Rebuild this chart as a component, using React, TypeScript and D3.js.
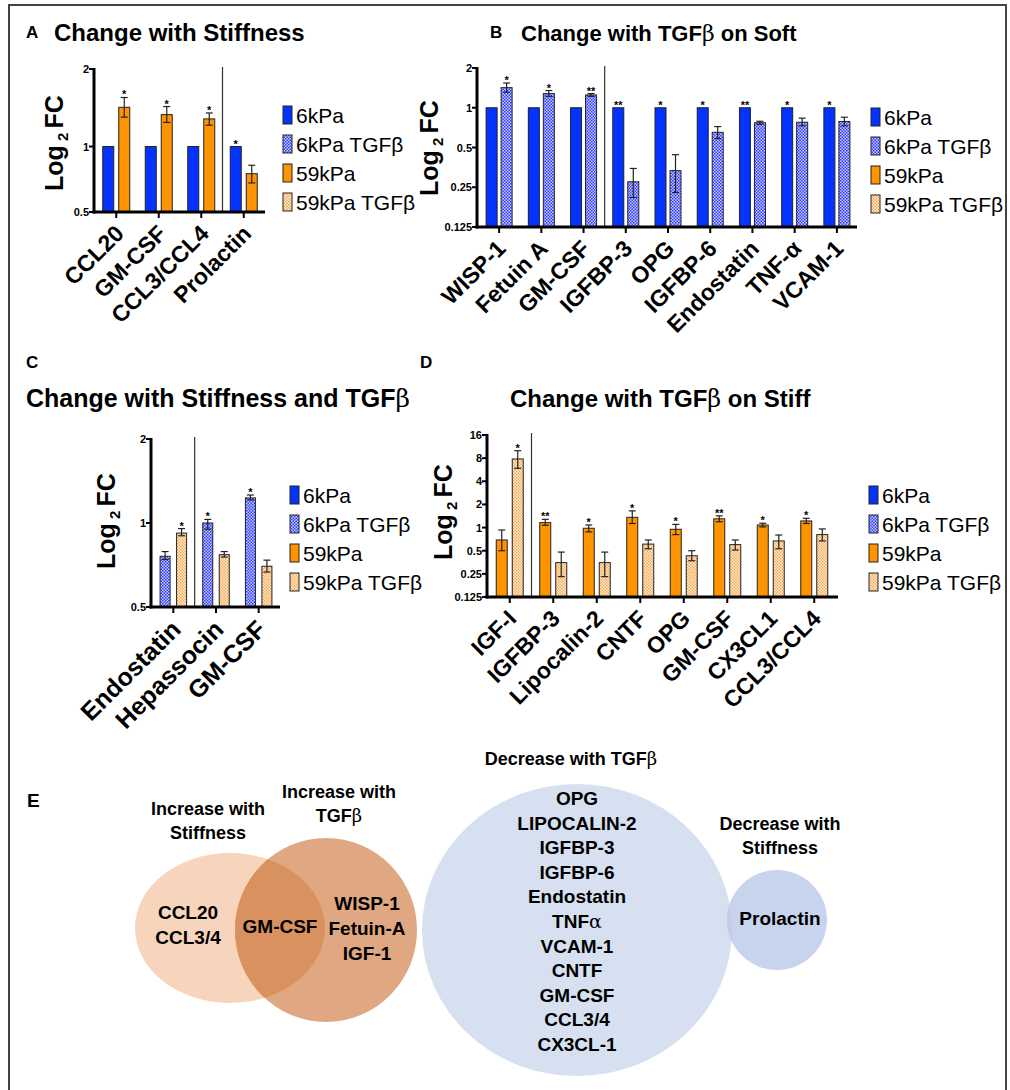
import React from 'react';
import * as d3 from 'd3';

const FONT = "'Liberation Sans', Arial, Helvetica, sans-serif";
const LEGEND_LABELS = ["6kPa", "6kPa TGFβ", "59kPa", "59kPa TGFβ"];
const FILLS = ["#0433ff", "url(#chkBlue)", "#ff9300", "url(#chkOrange)"];

// A: Change with Stiffness (6kPa vs 59kPa)
const catsA = ["CCL20", "GM-CSF", "CCL3/CCL4", "Prolactin"];
const aLeft = [1, 1, 1, 1];
const aRight = [1.42, 1.33, 1.28, 0.75];
const aRightLo = [1.30, 1.24, 1.21, 0.68];
const aRightHi = [1.55, 1.43, 1.35, 0.82];
const aStars = ["*", "*", "*", "*"];
const aStarOn = [1, 1, 1, 0];

// B: Change with TGFb on Soft (6kPa vs 6kPa TGFb)
const catsB = ["WISP-1", "Fetuin A", "GM-CSF", "IGFBP-3", "OPG", "IGFBP-6", "Endostatin", "TNF-α", "VCAM-1"];
const bLeft = [1, 1, 1, 1, 1, 1, 1, 1, 1];
const bRight = [1.42, 1.28, 1.25, 0.275, 0.334, 0.652, 0.77, 0.777, 0.787];
const bRightLo = [1.31, 1.22, 1.22, 0.209, 0.228, 0.584, 0.75, 0.73, 0.73];
const bRightHi = [1.54, 1.35, 1.28, 0.347, 0.441, 0.72, 0.79, 0.834, 0.848];
const bStars = ["*", "*", "**", "**", "*", "*", "**", "*", "*"];
const bStarOn = [1, 1, 1, 0, 0, 0, 0, 0, 0];

// C: Change with Stiffness and TGFb (6kPa TGFb vs 59kPa TGFb)
const catsC = ["Endostatin", "Hepassocin", "GM-CSF"];
const cLeft = [0.76, 1.0, 1.23];
const cLeftLo = [0.74, 0.95, 1.21];
const cLeftHi = [0.79, 1.03, 1.26];
const cRight = [0.92, 0.77, 0.70];
const cRightLo = [0.90, 0.755, 0.667];
const cRightHi = [0.955, 0.79, 0.736];
const cStars = ["*", "*", "*"];
const cStarOn = [1, 0, 0];

// D: Change with TGFb on Stiff (59kPa vs 59kPa TGFb)
const catsD = ["IGF-I", "IGFBP-3", "Lipocalin-2", "CNTF", "OPG", "GM-CSF", "CX3CL1", "CCL3/CCL4"];
const dLeft = [0.69, 1.16, 0.98, 1.36, 0.95, 1.30, 1.08, 1.22];
const dLeftLo = [0.50, 1.07, 0.88, 1.13, 0.81, 1.19, 1.02, 1.13];
const dLeftHi = [0.93, 1.28, 1.08, 1.65, 1.10, 1.42, 1.14, 1.32];
const dRight = [7.8, 0.35, 0.35, 0.61, 0.43, 0.60, 0.67, 0.81];
const dRightLo = [5.9, 0.23, 0.23, 0.53, 0.37, 0.51, 0.53, 0.67];
const dRightHi = [10.0, 0.48, 0.48, 0.69, 0.50, 0.69, 0.80, 0.96];
const dStars = ["*", "**", "*", "*", "*", "**", "*", "*"];
const dStarOn = [1, 0, 0, 0, 0, 0, 0, 0];

// E: venn groups
const incStiff = ["CCL20", "CCL3/4"];
const incBoth = ["GM-CSF"];
const incTgf = ["WISP-1", "Fetuin-A", "IGF-1"];
const decTgf = ["OPG", "LIPOCALIN-2", "IGFBP-3", "IGFBP-6", "Endostatin", "TNFα", "VCAM-1", "CNTF", "GM-CSF", "CCL3/4", "CX3CL-1"];
const decStiff = ["Prolactin"];

const panels = [
  {
    cats: catsA, left: aLeft, right: aRight, rightLo: aRightLo, rightHi: aRightHi,
    stars: aStars, starOn: aStarOn, kinds: [0, 2],
    band: [95, 265], axisEnd: 265, yDomain: [0.5, 1, 2], yRange: [212, 146.5, 69], ticks: [0.5, 1, 2],
    barW: 11, gap: 5, sepAfter: 2, legX: 283, legY: 115, ylab: [55, 143], xlabSize: 23, xlabOff: [9, 23],
  },
  {
    cats: catsB, left: bLeft, right: bRight, rightLo: bRightLo, rightHi: bRightHi,
    stars: bStars, starOn: bStarOn, kinds: [0, 1],
    band: [478, 858], axisEnd: 857, yDomain: [0.125, 2], yRange: [227, 68], ticks: [0.125, 0.25, 0.5, 1, 2],
    barW: 11, gap: 4, sepAfter: 2, legX: 871, legY: 117, ylab: [430, 148], xlabSize: 23, xlabOff: [8, 23],
  },
  {
    cats: catsC, left: cLeft, leftLo: cLeftLo, leftHi: cLeftHi, right: cRight, rightLo: cRightLo, rightHi: cRightHi,
    stars: cStars, starOn: cStarOn, kinds: [1, 3],
    band: [152, 280], axisEnd: 280, yDomain: [0.5, 2], yRange: [607, 439], ticks: [0.5, 1, 2],
    barW: 10, gap: 6.5, sepAfter: 0, legX: 290, legY: 495, ylab: [107, 521], xlabSize: 25, xlabOff: [9, 24],
  },
  {
    cats: catsD, left: dLeft, leftLo: dLeftLo, leftHi: dLeftHi, right: dRight, rightLo: dRightLo, rightHi: dRightHi,
    stars: dStars, starOn: dStarOn, kinds: [2, 3],
    band: [488, 836], axisEnd: 838, yDomain: [0.125, 16], yRange: [597, 435], ticks: [0.125, 0.25, 0.5, 1, 2, 4, 8, 16],
    barW: 11, gap: 5, sepAfter: 0, legX: 869, legY: 495, ylab: [444, 512], xlabSize: 23, xlabOff: [8, 23],
  },
];

function ErrBar({ x, y1, y2 }) {
  return (
    <g stroke="#222" strokeWidth={1.2}>
      <line x1={x} x2={x} y1={y1} y2={y2} />
      <line x1={x - 3.5} x2={x + 3.5} y1={y1} y2={y1} />
      <line x1={x - 3.5} x2={x + 3.5} y1={y2} y2={y2} />
    </g>
  );
}

function BarPanel({ p }) {
  const x = d3.scaleBand().domain(p.cats).range(p.band);
  const y = d3.scaleLog().base(2).domain(p.yDomain).range(p.yRange);
  const x0 = p.band[0] - 1;
  const yBase = p.yRange[0];
  const yTop = p.yRange[p.yRange.length - 1];
  const centers = p.cats.map(c => x(c) + x.bandwidth() / 2);
  const sepX = (centers[p.sepAfter] + centers[p.sepAfter + 1]) / 2;

  const bar = (c, side, v, lo, hi, kind) => {
    const bx = side === 0 ? c - p.gap / 2 - p.barW : c + p.gap / 2;
    return (
      <g>
        <rect x={bx} y={y(v)} width={p.barW} height={yBase - y(v)} fill={FILLS[kind]} stroke="#222" strokeWidth={1} />
        {lo != null && <ErrBar x={bx + p.barW / 2} y1={y(hi)} y2={y(lo)} />}
      </g>
    );
  };

  return (
    <g fontFamily={FONT}>
      {p.cats.map((c, i) => {
        const cx = centers[i];
        const lHi = p.leftHi ? p.leftHi[i] : p.left[i];
        const rHi = p.rightHi ? p.rightHi[i] : p.right[i];
        const starSide = p.starOn[i];
        const starX = starSide === 0 ? cx - p.gap / 2 - p.barW / 2 : cx + p.gap / 2 + p.barW / 2;
        const starY = y(starSide === 0 ? lHi : rHi) - 3;
        return (
          <g key={c}>
            {bar(cx, 0, p.left[i], p.leftLo ? p.leftLo[i] : null, lHi, p.kinds[0])}
            {bar(cx, 1, p.right[i], p.rightLo ? p.rightLo[i] : null, rHi, p.kinds[1])}
            <text x={starX} y={starY + 4} textAnchor="middle" fontSize={11} fontWeight="bold">{p.stars[i]}</text>
            <line x1={cx} x2={cx} y1={yBase} y2={yBase + 6} stroke="#000" strokeWidth={2} />
            <text transform={`translate(${cx + p.xlabOff[0]},${yBase + p.xlabOff[1]}) rotate(-45)`} textAnchor="end"
              fontSize={p.xlabSize} fontWeight="bold">{c}</text>
          </g>
        );
      })}
      <line x1={sepX} x2={sepX} y1={yTop - 2} y2={yBase} stroke="#333" strokeWidth={1.2} />
      <line x1={x0} x2={x0} y1={yTop - 1} y2={yBase + 1.5} stroke="#000" strokeWidth={3} />
      <line x1={x0 - 1.5} x2={p.axisEnd} y1={yBase} y2={yBase} stroke="#000" strokeWidth={3} />
      {p.ticks.map(t => (
        <g key={t}>
          <line x1={x0 - 5} x2={x0} y1={y(t)} y2={y(t)} stroke="#000" strokeWidth={2} />
          <text x={x0 - 5} y={y(t) + 4} textAnchor="end" fontSize={11} fontWeight="bold">{String(t)}</text>
        </g>
      ))}
      <text transform={`translate(${p.ylab[0] + 8},${p.ylab[1]}) rotate(-90)`} textAnchor="middle"
        fontSize={25} fontWeight="bold">
        Log<tspan fontSize={15} dy={5}> 2 </tspan><tspan dy={-5}>FC</tspan>
      </text>
      {LEGEND_LABELS.map((l, i) => (
        <g key={l}>
          <rect x={p.legX} y={p.legY + i * 29 - 9} width={9} height={18} fill={FILLS[i]} stroke="#222" strokeWidth={1} />
          <text x={p.legX + 13} y={p.legY + i * 29 + 7.5} fontSize={21}>{l}</text>
        </g>
      ))}
    </g>
  );
}

const beta = <tspan fontFamily="'DejaVu Serif', serif" fontWeight="normal">β</tspan>;

function Venn() {
  const t = { fontFamily: FONT, fontWeight: "bold", textAnchor: "middle" };
  return (
    <g>
      <defs>
        <clipPath id="clipDark"><ellipse cx={326} cy={930} rx={91} ry={92} /></clipPath>
        <clipPath id="clipBig"><ellipse cx={577} cy={930} rx={155} ry={146} /></clipPath>
      </defs>
      <ellipse cx={230} cy={928} rx={95} ry={75} fill="#f7d4bc" />
      <ellipse cx={326} cy={930} rx={91} ry={92} fill="#e0a882" />
      <ellipse cx={230} cy={928} rx={95} ry={75} fill="#d9925f" clipPath="url(#clipDark)" />
      <ellipse cx={577} cy={930} rx={155} ry={146} fill="#d6e0f1" />
      <circle cx={777} cy={920} r={50} fill="#c8d4ee" />
      <circle cx={777} cy={920} r={50} fill="#c0cdea" clipPath="url(#clipBig)" />

      <text x={27} y={807} fontSize={19} {...t} textAnchor="start">E</text>
      <text x={208} y={815} fontSize={18} {...t}>Increase with</text>
      <text x={208} y={839} fontSize={18} {...t}>Stiffness</text>
      <text x={339} y={798} fontSize={18} {...t}>Increase with</text>
      <text x={339} y={822} fontSize={18} {...t}>TGF{beta}</text>
      <text x={571} y={765} fontSize={18} {...t}>Decrease with TGF{beta}</text>
      <text x={780} y={830} fontSize={18} {...t}>Decrease with</text>
      <text x={780} y={854} fontSize={18} {...t}>Stiffness</text>

      {incStiff.map((s, i) => <text key={s} x={188} y={919 + i * 24.5} fontSize={19} {...t}>{s}</text>)}
      {incBoth.map((s, i) => <text key={s} x={280} y={933 + i * 24.5} fontSize={19} {...t}>{s}</text>)}
      {incTgf.map((s, i) => <text key={s} x={367} y={910 + i * 25} fontSize={19} {...t}>{s}</text>)}
      {decTgf.map((s, i) => (
        <text key={s + i} x={577} y={805 + i * 24.6} fontSize={19} {...t}>
          {s === "TNFα" ? <>TNF<tspan fontFamily="'DejaVu Serif', serif" fontWeight="normal">α</tspan></> : s}
        </text>
      ))}
      {decStiff.map((s, i) => <text key={s} x={780} y={925 + i * 24} fontSize={19} {...t}>{s}</text>)}
    </g>
  );
}

export default function App() {
  const title = { fontFamily: FONT, fontWeight: "bold" };
  return (
    <svg width={1010} height={1090} style={{ position: 'absolute', left: 0, top: 0, background: '#fff' }}>
      <defs>
        <pattern id="chkBlue" width={3} height={3} patternUnits="userSpaceOnUse">
          <rect width={3} height={3} fill="#c6c9ff" />
          <rect width={1.5} height={1.5} fill="#2f3dff" />
          <rect x={1.5} y={1.5} width={1.5} height={1.5} fill="#2f3dff" />
        </pattern>
        <pattern id="chkOrange" width={3} height={3} patternUnits="userSpaceOnUse">
          <rect width={3} height={3} fill="#ffeed8" />
          <rect width={1.5} height={1.5} fill="#f5a850" />
          <rect x={1.5} y={1.5} width={1.5} height={1.5} fill="#f5a850" />
        </pattern>
      </defs>
      <rect x={9} y={5} width={997} height={1100} fill="none" stroke="#444" strokeWidth={2} />

      <text x={26} y={38} fontSize={17} {...title}>A</text>
      <text x={54} y={41} fontSize={24} {...title}>Change with Stiffness</text>
      <text x={490} y={38} fontSize={17} {...title}>B</text>
      <text x={521} y={41} fontSize={22} {...title}>Change with TGF{beta} on Soft</text>
      <text x={26} y={368} fontSize={17} {...title}>C</text>
      <text x={26} y={407} fontSize={25} {...title}>Change with Stiffness and TGF{beta}</text>
      <text x={420} y={368} fontSize={17} {...title}>D</text>
      <text x={510} y={407} fontSize={24} {...title}>Change with TGF{beta} on Stiff</text>

      {panels.map((p, i) => <BarPanel key={i} p={p} />)}
      <Venn />
    </svg>
  );
}
